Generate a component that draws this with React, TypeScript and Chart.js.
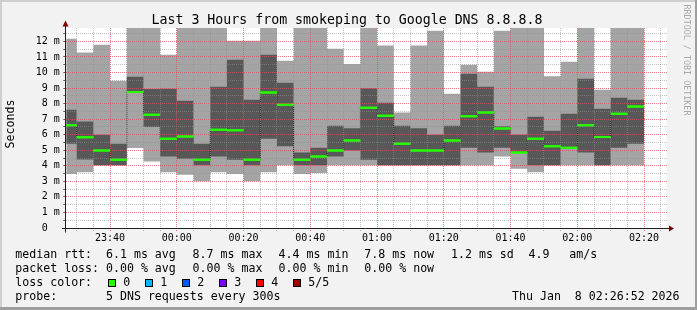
import React, { useEffect, useRef } from 'react';
import { Chart, registerables } from 'chart.js';

Chart.register(...registerables);

// ---------- data ----------
const graphStart = '23:26:52';
const graphEnd = '02:26:52';
// end time of each 5-minute step
const slotEnds = [
  '23:30', '23:35', '23:40', '23:45', '23:50', '23:55',
  '00:00', '00:05', '00:10', '00:15', '00:20', '00:25', '00:30', '00:35', '00:40', '00:45', '00:50', '00:55',
  '01:00', '01:05', '01:10', '01:15', '01:20', '01:25', '01:30', '01:35', '01:40', '01:45', '01:50', '01:55',
  '02:00', '02:05', '02:10', '02:15', '02:20',
];
const slotLength = 5; // minutes
// sorted ping times per step (ms): lowest, 2nd, median, 4th, highest
const pingLow = [3.47, 3.58, 4.02, 4.02, 5.14, 4.28, 3.58, 3.43, 3.0, 3.58, 3.47, 3.0, 3.58, 4.03, 3.47, 3.54, 4.03, 4.03, 4.03, 4.02, 4.02, 4.02, 4.02, 4.02, 4.03, 4.03, 4.6, 3.81, 3.58, 4.02, 4.03, 4.03, 4.02, 4.03, 4.03];
const pingLowMid = [5.42, 4.41, 4.03, 4.03, 8.74, 6.5, 4.59, 4.46, 4.03, 4.59, 4.39, 4.03, 5.74, 5.25, 4.03, 4.03, 4.6, 4.99, 4.39, 4.03, 4.03, 4.03, 4.03, 4.03, 5.16, 4.86, 5.16, 4.82, 4.03, 4.03, 5.12, 4.86, 4.03, 5.16, 5.42];
const medianRtt = [6.6, 5.83, 4.99, 4.39, 8.74, 7.29, 5.74, 5.89, 4.39, 6.32, 6.28, 4.39, 8.72, 7.93, 4.39, 4.6, 4.99, 5.63, 7.74, 7.22, 5.42, 4.99, 4.99, 5.63, 7.18, 7.43, 6.4, 4.86, 5.74, 5.25, 5.16, 6.6, 5.85, 7.35, 7.82];
const pingHighMid = [7.61, 6.84, 6.0, 5.42, 9.73, 8.94, 8.96, 8.19, 5.42, 9.09, 10.82, 8.25, 11.14, 9.34, 4.86, 5.16, 6.58, 6.41, 8.98, 8.06, 6.58, 6.41, 6.0, 6.58, 9.92, 9.09, 6.55, 6.0, 7.16, 6.26, 7.35, 9.6, 7.67, 8.38, 8.25];
const pingHigh = [12.17, 11.29, 11.79, 9.47, 13.6, 14.1, 11.14, 13.9, 13.3, 14.4, 12.04, 12.04, 15.2, 10.76, 13.8, 13.5, 11.53, 10.55, 14.6, 11.74, 7.43, 11.74, 12.69, 8.64, 10.5, 10.05, 12.69, 13.2, 14.0, 9.75, 10.69, 13.7, 8.89, 13.4, 13.9];

const xTickLabels = ['23:40', '00:00', '00:20', '00:40', '01:00', '01:20', '01:40', '02:00', '02:20'];
const yTickLabels = ['0', '1 m', '2 m', '3 m', '4 m', '5 m', '6 m', '7 m', '8 m', '9 m', '10 m', '11 m', '12 m'];
const yMax = 12.86;

const titleText = 'Last 3 Hours from smokeping to Google DNS 8.8.8.8';
const yAxisTitle = 'Seconds';
const watermark = 'RRDTOOL / TOBI OETIKER';
const rttStats = ['6.1 ms avg', '8.7 ms max', '4.4 ms min', '7.8 ms now', '1.2 ms sd'];
const amsStat = ['4.9', 'am/s'];
const lossStats = ['0.00 % avg', '0.00 % max', '0.00 % min', '0.00 % now'];
const lossLabels = ['0', '1', '2', '3', '4', '5/5'];
const lossColors = ['#26ff00', '#00b8ff', '#0059ff', '#7e00ff', '#ff0000', '#a00000'];
const probeText = '5 DNS requests every 300s';
const stampText = 'Thu Jan  8 02:26:52 2026';

// ---------- helpers ----------
const toMinutes = (t: string) => {
  const [h, m, s = '0'] = t.split(':');
  const v = Number(h) * 60 + Number(m) + Number(s) / 60;
  return Number(h) >= 12 ? v - 1440 : v;
};
const xMin = toMinutes(graphStart);
const xMax = toMinutes(graphEnd);
const ends = slotEnds.map(toMinutes);
const starts = ends.map((e) => e - slotLength);
const majorX = xTickLabels.map(toMinutes);
const isMajor = (v: number) => majorX.some((m) => Math.abs(m - v) < 1e-6);

// value of each step is held from its start to its end
const stepPoints = (vals: number[]) => [
  ...starts.map((x, i) => ({ x, y: vals[i] })),
  { x: ends[ends.length - 1], y: vals[vals.length - 1] },
];
const medianSegments = () => {
  const pts: { x: number; y: number | null }[] = [];
  medianRtt.forEach((m, i) => {
    pts.push({ x: starts[i], y: m }, { x: ends[i], y: m }, { x: ends[i], y: null });
  });
  return pts;
};

const MGRID = 'rgba(222,79,79,0.72)';
const GRID = 'rgba(143,143,143,0.55)';
const MONO = "'DejaVu Sans Mono', monospace";

const framePlugin = {
  id: 'rrdFrame',
  beforeDraw(chart: any) {
    const { ctx, chartArea: a } = chart;
    ctx.save();
    ctx.fillStyle = '#ffffff';
    ctx.fillRect(a.left, a.top, a.right - a.left, a.bottom - a.top);
    ctx.restore();
  },
  afterDraw(chart: any) {
    const { ctx, chartArea: a } = chart;
    // median (loss-coloured) segments sit above the grid, as in rrdtool
    const medMeta = chart.getDatasetMeta(0);
    if (medMeta && medMeta.dataset) {
      ctx.save();
      ctx.beginPath();
      ctx.rect(a.left, a.top, a.right - a.left, a.bottom - a.top);
      ctx.clip();
      medMeta.dataset.draw(ctx, a);
      ctx.restore();
    }
    const ax = Math.floor(a.left) - 0.5;
    const ay = Math.round(a.bottom) + 0.5;
    ctx.save();
    ctx.strokeStyle = '#212121';
    ctx.lineWidth = 1;
    ctx.beginPath();
    ctx.moveTo(ax, ay + 4);
    ctx.lineTo(ax, a.top - 2);
    ctx.moveTo(ax - 3.5, ay);
    ctx.lineTo(a.right + 2, ay);
    ctx.stroke();
    ctx.fillStyle = '#800000';
    ctx.beginPath();
    ctx.moveTo(ax, a.top - 7.5);
    ctx.lineTo(ax - 3, a.top - 1.5);
    ctx.lineTo(ax + 3, a.top - 1.5);
    ctx.closePath();
    ctx.fill();
    ctx.beginPath();
    ctx.moveTo(a.right + 7, ay);
    ctx.lineTo(a.right + 2, ay - 3);
    ctx.lineTo(a.right + 2, ay + 3);
    ctx.closePath();
    ctx.fill();
    ctx.restore();
  },
};

const txt = (left: number, top: number, text: string, size = 11.6, extra: any = {}) => (
  <div
    key={`${left}-${top}-${text}`}
    style={{
      position: 'absolute', left, top, fontFamily: MONO, fontSize: size, lineHeight: 1,
      whiteSpace: 'pre', color: '#000', ...extra,
    }}
  >
    {text}
  </div>
);

export default function App() {
  const canvasRef = useRef<HTMLCanvasElement>(null);

  useEffect(() => {
    document.body.style.margin = '0';
    const transparent = 'rgba(0,0,0,0)';
    const area = (vals: number[], color: string | null, fill: any) => ({
      data: stepPoints(vals),
      stepped: 'before' as const,
      borderColor: transparent,
      borderWidth: 0,
      pointRadius: 0,
      backgroundColor: color || transparent,
      fill,
      clip: 0,
    });
    const chart = new Chart(canvasRef.current!, {
      type: 'line',
      data: {
        datasets: [
          {
            data: medianSegments(),
            borderColor: lossColors[0],
            borderWidth: 2,
            borderCapStyle: 'butt',
            pointRadius: 0,
            spanGaps: false,
            fill: false,
            clip: 0,
          } as any,
          {
            data: stepPoints(medianRtt),
            stepped: 'before',
            borderColor: '#202020',
            borderWidth: 1,
            borderDash: [1, 1],
            pointRadius: 0,
            fill: false,
            clip: 0,
          } as any,
          area(pingHighMid, '#585858', 3) as any,
          area(pingLowMid, null, false) as any,
          area(pingHigh, '#a4a4a4', 5) as any,
          area(pingLow, null, false) as any,
        ],
      },
      options: {
        responsive: false,
        devicePixelRatio: 1,
        animation: false,
        events: [],
        layout: { padding: { left: 0, right: 30, top: 28, bottom: 0 } },
        plugins: { legend: { display: false }, tooltip: { enabled: false }, title: { display: false } },
        scales: {
          x: {
            type: 'linear',
            min: xMin,
            max: xMax,
            afterFit: (s: any) => { s.height = 82; },
            afterBuildTicks: (s: any) => {
              const t: { value: number }[] = [];
              for (let v = Math.ceil(xMin / slotLength) * slotLength; v <= xMax; v += slotLength) t.push({ value: v });
              s.ticks = t;
            },
            grid: {
              z: 1,
              color: (c: any) => (isMajor(c.tick.value) ? MGRID : GRID),
              tickColor: (c: any) => (isMajor(c.tick.value) ? MGRID : GRID),
              lineWidth: 1,
              tickLength: 3,
              tickBorderDash: [1, 1],
            },
            border: { display: false, dash: [1, 1] },
            ticks: {
              autoSkip: false,
              maxRotation: 0,
              minRotation: 0,
              padding: 1,
              color: '#000',
              font: { family: 'DejaVu Sans Mono', size: 10 },
              callback: (v: any) => {
                const i = majorX.findIndex((m) => Math.abs(m - Number(v)) < 1e-6);
                return i >= 0 ? xTickLabels[i] : '';
              },
            },
          },
          y: {
            type: 'linear',
            min: 0,
            max: yMax,
            afterFit: (s: any) => { s.width = 66.25; },
            afterBuildTicks: (s: any) => {
              const t: { value: number }[] = [];
              for (let i = 0; i < yTickLabels.length; i++) {
                t.push({ value: i });
                if (i + 0.5 < yMax) t.push({ value: i + 0.5 });
              }
              s.ticks = t;
            },
            grid: {
              z: 1,
              color: (c: any) => (Number.isInteger(c.tick.value) ? MGRID : GRID),
              tickColor: '#666',
              lineWidth: 1,
              tickLength: 3,
            },
            border: { display: false, dash: [1, 1] },
            ticks: {
              autoSkip: false,
              padding: 3.5,
              color: '#000',
              font: { family: 'DejaVu Sans Mono', size: 10 },
              callback: (v: any) => {
                const n = Number(v);
                if (!Number.isInteger(n)) return '';
                const l = yTickLabels[n] || '';
                return l.length < 3 ? l.padEnd(3, ' ') : l;
              },
            },
          },
        },
      } as any,
      plugins: [framePlugin],
    });
    return () => chart.destroy();
  }, []);

  const statX = [106, 192.6, 278.6, 364.3, 451];
  return (
    <div
      style={{
        position: 'relative', width: 697, height: 310, background: '#f2f2f2', overflow: 'hidden',
      }}
    >
      <style>{'body{margin:0}'}</style>
      <canvas ref={canvasRef} width={697} height={310} style={{ position: 'absolute', left: 0, top: 0, display: 'block' }} />
      {/* frame shading */}
      <div style={{ position: 'absolute', left: 0, top: 0, width: 697, height: 2, background: '#cfcfcf' }} />
      <div style={{ position: 'absolute', left: 0, top: 0, width: 2, height: 310, background: '#cfcfcf' }} />
      <div style={{ position: 'absolute', left: 695, top: 0, width: 2, height: 310, background: '#9e9e9e' }} />
      <div style={{ position: 'absolute', left: 0, top: 307, width: 697, height: 3, background: '#9e9e9e' }} />

      {txt(151.5, 12.5, titleText, 13.25)}
      <div
        style={{
          position: 'absolute', left: 11, top: 124, transform: 'translate(-50%,-50%) rotate(-90deg)',
          fontFamily: MONO, fontSize: 11.6, lineHeight: 1, whiteSpace: 'pre', color: '#000',
        }}
      >
        {yAxisTitle}
      </div>
      <div
        style={{
          position: 'absolute', left: 687, top: 59.5, transform: 'translate(-50%,-50%) rotate(90deg)',
          fontFamily: MONO, fontSize: 8.4, lineHeight: 1, whiteSpace: 'pre', color: '#a9a9a9',
        }}
      >
        {watermark}
      </div>

      {txt(15.3, 248.7, 'median rtt:')}
      {rttStats.map((s, i) => txt(statX[i], 248.7, s))}
      {txt(528.6, 248.7, amsStat[0])}
      {txt(569.3, 248.7, amsStat[1])}

      {txt(15.3, 262.7, 'packet loss:')}
      {lossStats.map((s, i) => txt(statX[i], 262.7, s))}

      {txt(15.3, 276.7, 'loss color:')}
      {lossLabels.map((l, i) => (
        <React.Fragment key={l}>
          <div
            style={{
              position: 'absolute', left: 108.3 + 37 * i, top: 278.5, width: 8, height: 8,
              boxSizing: 'border-box', border: '1px solid #000', background: lossColors[i],
            }}
          />
          {txt(123.3 + 37 * i, 276.7, l)}
        </React.Fragment>
      ))}

      {txt(15.3, 290.7, 'probe:')}
      {txt(106, 290.7, probeText)}
      {txt(512, 290.7, stampText)}
    </div>
  );
}
